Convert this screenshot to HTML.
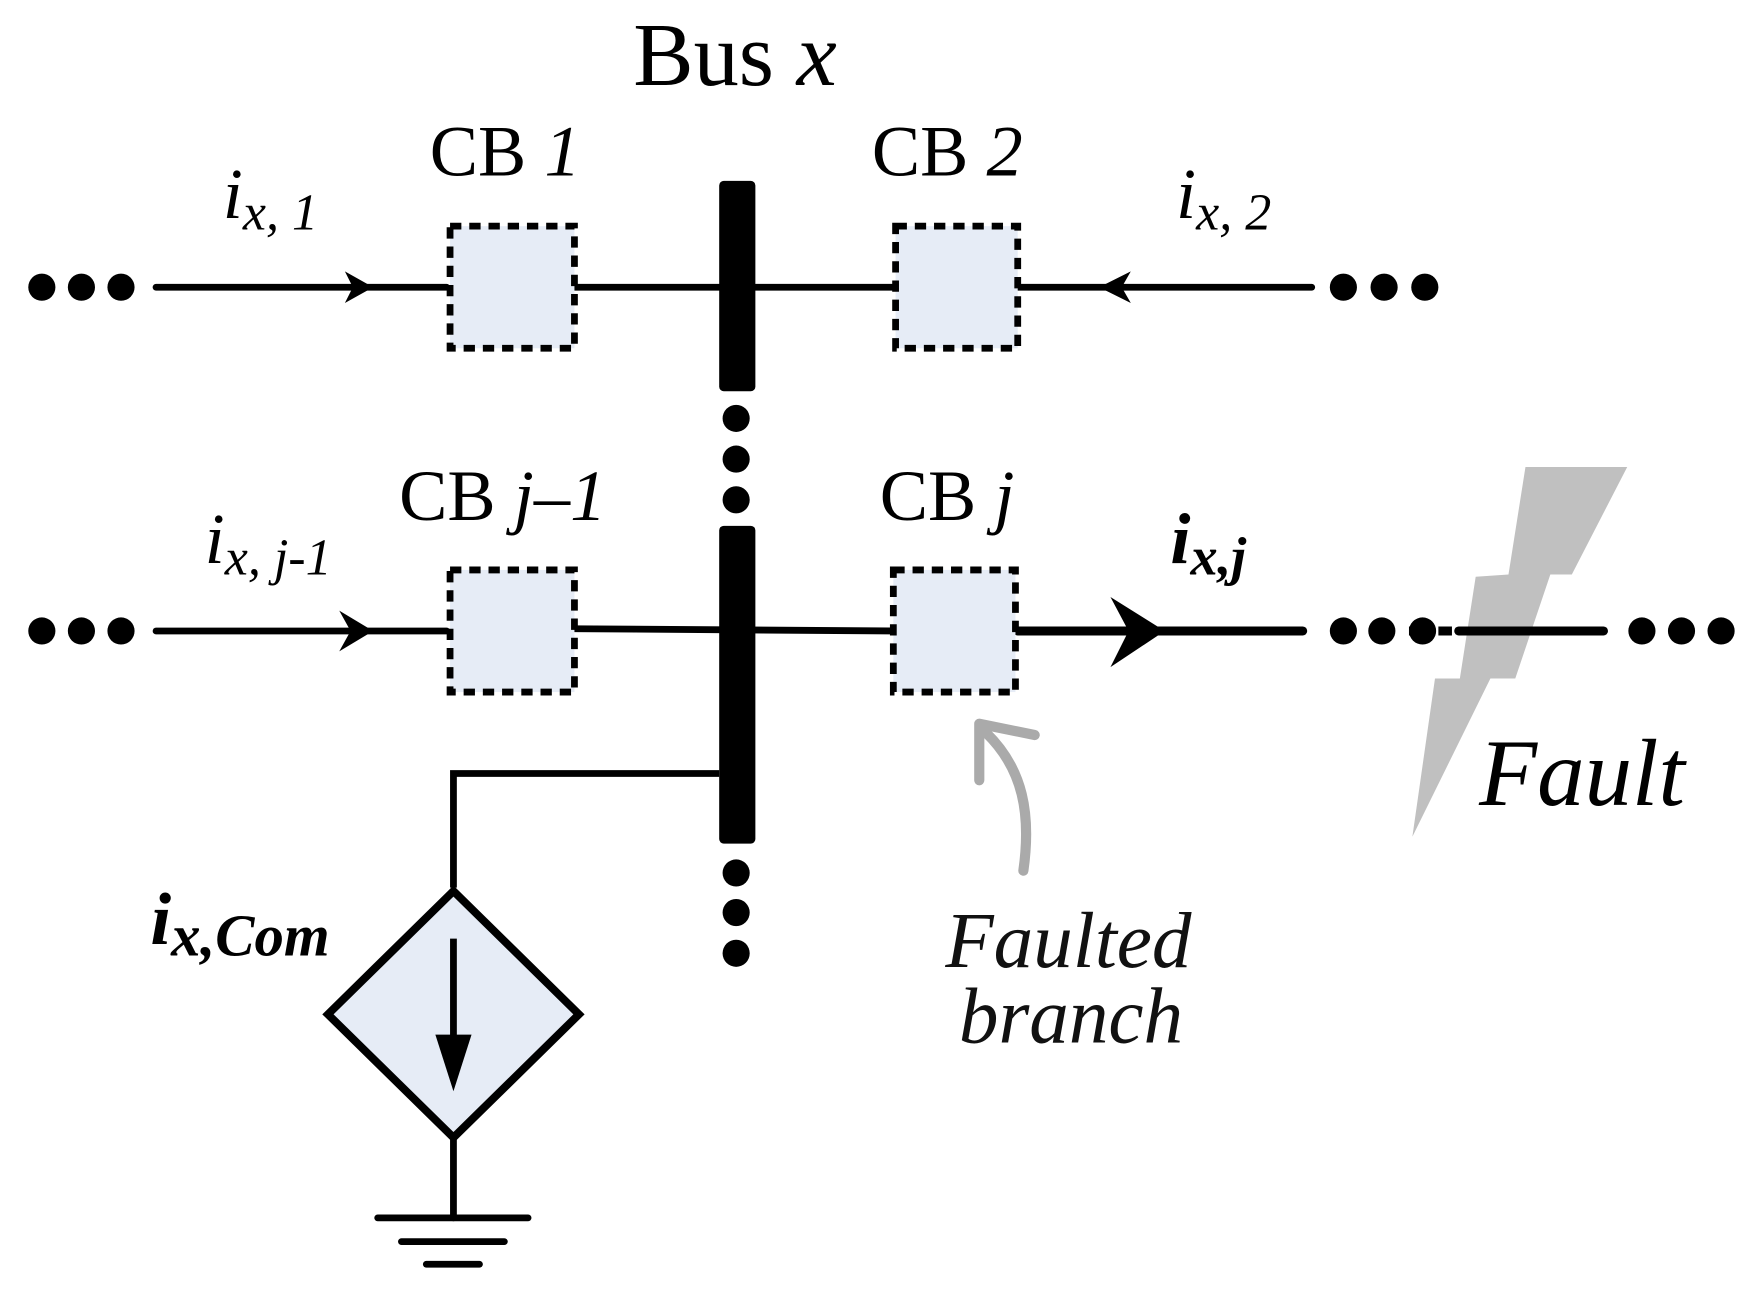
<!DOCTYPE html>
<html><head><style>html,body{margin:0;padding:0;background:#fff;width:1764px;height:1302px;overflow:hidden}</style></head>
<body>
<svg width="1764" height="1302" viewBox="0 0 1764 1302" xmlns="http://www.w3.org/2000/svg">
<g transform="scale(1.1308)" font-family="Liberation Serif, serif">
<polygon points="1349,413 1439,413 1390,508 1371,508 1340,600 1318,600 1249,740 1269,600 1291,600 1305,510 1334,508" fill="#c0c0c0"/>
<g stroke="#000" stroke-width="6" stroke-linecap="round" fill="none">
<line x1="138" y1="254" x2="395" y2="254"/>
<line x1="508" y1="254" x2="792" y2="254"/>
<line x1="900" y1="254" x2="1160" y2="254"/>
<line x1="138" y1="558" x2="395" y2="558"/>
<line x1="508" y1="556" x2="792" y2="558"/>
<line x1="900" y1="558" x2="1152" y2="558" stroke-width="8"/>
<line x1="1290" y1="558" x2="1418" y2="558" stroke-width="8"/>
<polyline points="636,684 401,684 401,785" stroke-linecap="butt"/>
<line x1="401" y1="1008" x2="401" y2="1077"/>
<line x1="334" y1="1077" x2="467" y2="1077"/>
<line x1="355" y1="1098" x2="446" y2="1098"/>
<line x1="377" y1="1118" x2="424" y2="1118"/>
</g>
<path d="M305,240 L330,254 L305,268 L312,254Z" fill="#000"/>
<path d="M1000,240 L972,254 L1000,268 L992,254Z" fill="#000"/>
<path d="M300,540 L330,558 L300,576 L310,558Z" fill="#000"/>
<path d="M982,528 L1030,558 L982,590 L998,558Z" fill="#000"/>
<line x1="1220" y1="558" x2="1320" y2="558" stroke="#000" stroke-width="8" stroke-dasharray="12 14"/>
<g fill="#000">
<circle cx="37" cy="254" r="12"/><circle cx="72" cy="254" r="12"/><circle cx="107" cy="254" r="12"/>
<circle cx="1188" cy="254" r="12"/><circle cx="1224" cy="254" r="12"/><circle cx="1260" cy="254" r="12"/>
<circle cx="37" cy="558" r="12"/><circle cx="72" cy="558" r="12"/><circle cx="107" cy="558" r="12"/>
<circle cx="1188" cy="558" r="12"/><circle cx="1222" cy="558" r="12"/><circle cx="1258" cy="558" r="12"/>
<circle cx="1452" cy="558" r="12"/><circle cx="1487" cy="558" r="12"/><circle cx="1522" cy="558" r="12"/>
<circle cx="651" cy="370" r="12"/><circle cx="651" cy="406" r="12"/><circle cx="651" cy="442" r="12"/>
<circle cx="651" cy="772" r="12"/><circle cx="651" cy="807" r="12"/><circle cx="651" cy="843" r="12"/>
<rect x="636" y="160" width="32" height="186" rx="4"/>
<rect x="636" y="465" width="32" height="281" rx="4"/>
</g>
<g fill="#e6ecf6" stroke="#000" stroke-width="6" stroke-dasharray="10 7">
<rect x="398" y="200" width="110" height="108"/>
<rect x="792" y="200" width="108" height="108"/>
<rect x="398" y="504" width="110" height="108"/>
<rect x="790" y="504" width="108" height="108"/>
</g>
<polygon points="401,788 512,897 401,1006 290,897" fill="#e6ecf6" stroke="#000" stroke-width="7"/>
<line x1="401" y1="830" x2="401" y2="920" stroke="#000" stroke-width="6"/>
<path d="M385,915 L417,915 L401,965Z" fill="#000"/>
<path d="M905,770 C912,720 905,680 872,648" stroke="#aaa" stroke-width="9" fill="none" stroke-linecap="round"/>
<path d="M866,690 L866,640 L915,650" stroke="#aaa" stroke-width="9" fill="none" stroke-linecap="round" stroke-linejoin="round"/>
<g fill="#000">
<text x="560" y="75" font-size="80">Bus <tspan font-style="italic">x</tspan></text>
<text x="380" y="155" font-size="64">CB <tspan font-style="italic">1</tspan></text>
<text x="771" y="155" font-size="64">CB <tspan font-style="italic">2</tspan></text>
<text x="353" y="460" font-size="64">CB <tspan font-style="italic">j–1</tspan></text>
<text x="778" y="460" font-size="64">CB <tspan font-style="italic">j</tspan></text>
<text x="197" y="193" font-size="64" font-style="italic">i<tspan font-size="46" dy="10">x, 1</tspan></text>
<text x="1040" y="193" font-size="64" font-style="italic">i<tspan font-size="46" dy="10">x, 2</tspan></text>
<text x="181" y="498" font-size="64" font-style="italic">i<tspan font-size="46" dy="10">x, j-1</tspan></text>
<text x="1035" y="498" font-size="64" font-style="italic" font-weight="bold">i<tspan font-size="48" dy="10">x,j</tspan></text>
<text x="133" y="835" font-size="66" font-style="italic" font-weight="bold">i<tspan font-size="52" dy="10">x,Com</tspan></text>
<text x="1308" y="712" font-size="84" font-style="italic">Fault</text>
<text x="836" y="855" font-size="70" font-style="italic" fill="#111">Faulted</text>
<text x="848" y="922" font-size="70" font-style="italic" fill="#111">branch</text>
</g>
</g>
</svg>
</body></html>
